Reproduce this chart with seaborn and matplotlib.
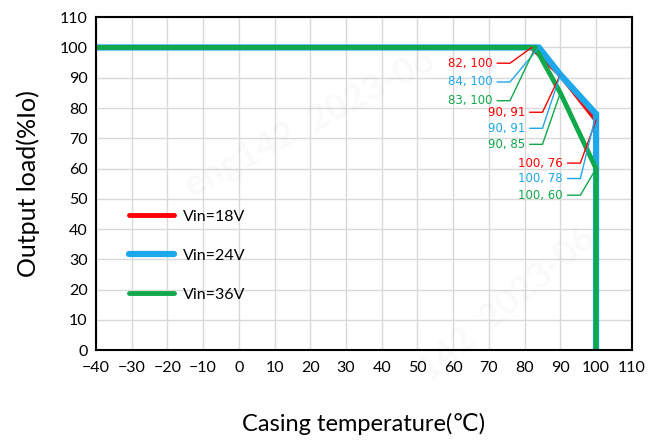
import pandas as pd
import matplotlib
matplotlib.use('Agg')
import matplotlib.pyplot as plt
import seaborn as sns

# 데이터
temp_18 = [-40, 82, 90, 100, 100]
load_18 = [100, 100, 91, 76, 0]
temp_24 = [-40, 84, 90, 100, 100]
load_24 = [100, 100, 91, 78, 0]
temp_36 = [-40, 83, 90, 100, 100]
load_36 = [100, 100, 85, 60, 0]

series = ['Vin=18V', 'Vin=24V', 'Vin=36V']
colors = ['#ff0000', '#1ea8ec', '#0fa84a']

# 주석 (라벨, 목표점, 텍스트 위치)
ann_labels = ['82, 100', '84, 100', '83, 100',
              '90, 91', '90, 91', '90, 85',
              '100, 76', '100, 78', '100, 60']
ann_targets = [(82, 100), (84, 100), (83, 100),
               (90, 91), (90, 91), (90, 85),
               (100, 76), (100, 78), (100, 60)]
ann_text_pos = [(71.0, 94.8), (71.0, 88.6), (71.0, 82.4),
                (80.1, 78.6), (80.1, 73.3), (80.1, 68.0),
                (90.7, 61.8), (90.7, 56.7), (90.7, 51.2)]

sns.set_style('white')
plt.rcParams['font.family'] = ['Lato', 'DejaVu Sans']
plt.rcParams['text.color'] = 'black'
plt.rcParams['axes.labelcolor'] = 'black'

df = pd.concat([
    pd.DataFrame({'temp': temp_18, 'load': load_18, 'vin': series[0]}),
    pd.DataFrame({'temp': temp_24, 'load': load_24, 'vin': series[1]}),
    pd.DataFrame({'temp': temp_36, 'load': load_36, 'vin': series[2]}),
])

fig = plt.figure(figsize=(6.48, 4.41), dpi=100)
ax = fig.add_axes([0.148, 0.206, 0.827, 0.755])

widths = [3.5, 4.5, 3.5]
for name, c, w in zip(series, colors, widths):
    sns.lineplot(data=df[df['vin'] == name], x='temp', y='load', sort=False,
                 estimator=None, color=c, linewidth=w, label=name, ax=ax)

# 주석 그리기
ann_colors = colors * 3
for i, (lab, tgt, pos) in enumerate(zip(ann_labels, ann_targets, ann_text_pos)):
    c = ann_colors[i]
    ax.text(pos[0], pos[1], lab, color=c, fontsize=8.5, ha='right', va='center',
            family=['DejaVu Sans'])
    x0 = pos[0] + 1.3
    x1 = x0 + 3.6
    ax.plot([x0, x1, tgt[0]], [pos[1], pos[1], tgt[1]], color=c, linewidth=1)

# 워터마크
ax.text(20, 75, 'eng142  2023-06', rotation=28, fontsize=26,
        color='#000000', alpha=0.025, ha='center', va='center', fontweight='bold')
ax.text(75, 15, '142  2023-06', rotation=40, fontsize=26,
        color='#000000', alpha=0.025, ha='center', va='center', fontweight='bold')

ax.set_xlim(-40, 110)
ax.set_ylim(0, 110)
ax.set_xticks(range(-40, 111, 10))
ax.set_yticks(range(0, 111, 10))
ax.grid(True, color='#d9d9d9', linewidth=1)
ax.set_axisbelow(True)
for s in ax.spines.values():
    s.set_color('black')
    s.set_linewidth(1.5)
ax.tick_params(direction='in', length=5, width=1.2, labelsize=11.5, pad=8,
               colors='black')
ax.tick_params(axis='y', pad=6)

ax.set_xlabel('Casing temperature(℃)', fontsize=17, labelpad=27)
ax.set_ylabel('Output load(%Io)', fontsize=18, labelpad=14)

ax.legend(loc='upper left', bbox_to_anchor=(0.035, 0.465), frameon=False,
          fontsize=11.5, handlelength=2.8, labelspacing=1.55, handletextpad=0.6,
          labelcolor='black')

fig.savefig('out.png', dpi=100)
